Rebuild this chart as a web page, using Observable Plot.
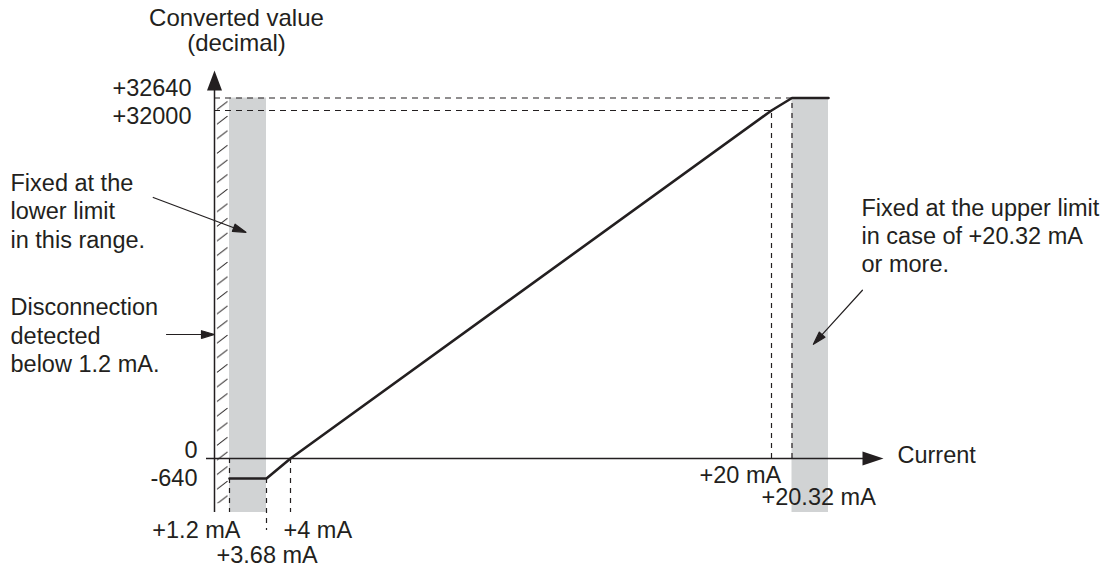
<!DOCTYPE html>
<html>
<head>
<meta charset="utf-8">
<script src="https://cdn.jsdelivr.net/npm/d3@7"></script>
<script src="https://cdn.jsdelivr.net/npm/@observablehq/plot@0.6"></script>
<style>
  html, body { margin: 0; padding: 0; background: #fff; overflow: hidden; }
  #chart { width: 1117px; height: 574px; }
</style>
</head>
<body>
<div id="chart"></div>
<script>
// ---- Data ----
const curveCurrent = [1.2, 3.68, 4, 20, 20.32, 21.6];          // mA
const curveValue   = [-640, -640, 0, 32000, 32640, 32640];      // converted value

const xTickValues = [1.2, 3.68, 4, 20, 20.32];
const xTickLabels = ["+1.2 mA", "+3.68 mA", "+4 mA", "+20 mA", "+20.32 mA"];

const yTickValues = [32640, 32000, 0, -640];
const yTickLabels = ["+32640", "+32000", "0", "-640"];

const disconnectRange = [0, 1.2];      // mA, hatched
const lowerFixedRange = [1.2, 3.68];   // mA, grey band
const upperFixedRange = [20.32, 21.6]; // mA, grey band (open ended)

const bandBottom = -2200;   // extent of the bands below the axis
const hatchBottom = -1800;
const guideBottom = -3000;  // lowest dashed guide (3.68 mA)
const axisTipX = 23.4;
const axisTipY = 35000;

const titleLines = ["Converted value", "(decimal)"];
const xAxisTitle = "Current";
const lowerNote = ["Fixed at the", "lower limit", "in this range."];
const disconnectNote = ["Disconnection", "detected", "below 1.2 mA."];
const upperNote = ["Fixed at the upper limit", "in case of +20.32 mA", "or more."];

// ---- Build ----
const ink = "#231f20";
const grey = "#d1d3d4";
const font = '"Liberation Sans", Arial, Helvetica, sans-serif';
const fs = 23.5;

const curve = curveCurrent.map((c, i) => ({c, v: curveValue[i]}));
const bands = [lowerFixedRange, upperFixedRange].map(([a, b]) => ({x1: a, x2: b, y1: bandBottom, y2: curveValue[curveValue.length - 1]}));

const headShape = (w) => ({
  draw(ctx, l) { ctx.moveTo(-w, 0); ctx.lineTo(0, -l); ctx.lineTo(w, 0); ctx.closePath(); }
});
const arrowShape = {
  draw(ctx, l) {
    const h = 13, w = 3.8;
    ctx.moveTo(0, 0); ctx.lineTo(0, -l + h);
    ctx.moveTo(-w, -l + h); ctx.lineTo(0, -l); ctx.lineTo(w, -l + h); ctx.closePath();
  }
};

const tick = (i, anchor, dx, dy) => Plot.text([xTickLabels[i]], {
  x: xTickValues[i], y: 0, text: d => d, textAnchor: anchor, lineAnchor: "middle",
  dx, dy, fontSize: fs, fill: ink
});
const ytick = (i, dx, dy) => Plot.text([yTickLabels[i]], {
  x: 0, y: yTickValues[i], text: d => d, textAnchor: "end", lineAnchor: "middle",
  dx, dy, fontSize: fs, fill: ink
});
const note = (lines, dx, dy, lh) => Plot.text([lines.join("\n")], {
  frameAnchor: "top-left", text: d => d, textAnchor: "start", lineAnchor: "top",
  dx, dy, lineHeight: lh, fontSize: fs, fill: ink
});
const dashed = {stroke: ink, strokeWidth: 1.2, strokeDasharray: "6,5"};

const plot = Plot.plot({
  width: 1117, height: 574, margin: 0,
  style: {fontFamily: font, background: "#fff", color: ink},
  x: {type: "linear", domain: [-0.6, 0, 1.2, 3.68, 4, 20, 20.32, 21.6, 23.4],
      range: [206, 214, 229, 266, 290, 771, 791.5, 828, 883], axis: null},
  y: {type: "linear", domain: [-3000, -2200, -640, 0, 32000, 32640, 35000],
      range: [530, 512, 478, 458, 110, 97.5, 70], axis: null},
  marks: [
    Plot.rect(bands, {x1: "x1", x2: "x2", y1: "y1", y2: "y2", fill: grey}),
    Plot.rect([{}], {x1: disconnectRange[0], x2: disconnectRange[1], y1: hatchBottom, y2: yTickValues[0], fill: "url(#hatch)"}),
    // dashed guides
    Plot.ruleY([yTickValues[0]], {x1: 0, x2: xTickValues[4], ...dashed}),
    Plot.ruleY([yTickValues[1]], {x1: 0, x2: xTickValues[3], ...dashed}),
    Plot.ruleX([xTickValues[3]], {y1: 0, y2: yTickValues[1], ...dashed, strokeDasharray: "5,5"}),
    Plot.ruleX([xTickValues[4]], {y1: 0, y2: yTickValues[0], ...dashed, strokeDasharray: "5,5"}),
    Plot.ruleX([xTickValues[0], xTickValues[2]], {y1: 0, y2: bandBottom, ...dashed, strokeDasharray: "5,5"}),
    Plot.ruleX([xTickValues[1]], {y1: yTickValues[3], y2: guideBottom, ...dashed, strokeDasharray: "5,5"}),
    // axes
    Plot.ruleY([0], {x1: -0.6, x2: 23, stroke: ink, strokeWidth: 1.5}),
    Plot.ruleX([0], {y1: bandBottom, y2: 34000, stroke: ink, strokeWidth: 1.5}),
    Plot.vector([{}], {x: 0, y: axisTipY, length: 20, rotate: 0, anchor: "end", shape: headShape(7.5), fill: ink, stroke: "none"}),
    Plot.vector([{}], {x: axisTipX, y: 0, length: 21, rotate: 90, anchor: "end", shape: headShape(7), fill: ink, stroke: "none"}),
    // conversion curve
    Plot.line(curve, {x: "c", y: "v", stroke: ink, strokeWidth: 2.6, strokeLinejoin: "miter"}),
    // tick labels
    ytick(0, -23, -10), ytick(1, -23, 5.5), ytick(2, -17, -8.5), ytick(3, -17, -0.5),
    tick(0, "end", 11, 71.5), tick(1, "start", -50, 96.5), tick(2, "start", -7, 71.5),
    tick(3, "start", -72, 16.5), tick(4, "start", -30.5, 38.5),
    Plot.text([xAxisTitle], {x: axisTipX, y: 0, text: d => d, textAnchor: "start", lineAnchor: "middle", dx: 14, dy: -3.5, fontSize: fs, fill: ink}),
    Plot.text([titleLines.join("\n")], {x: 0, frameAnchor: "top", text: d => d, textAnchor: "middle", lineAnchor: "top", lineHeight: 1.08, dx: 22, dy: 6.6, fontSize: 24, fill: ink}),
    // annotations
    note(lowerNote, 10, 170.6, 1.204),
    note(disconnectNote, 10, 294.9, 1.204),
    note(upperNote, 861, 195, 1.2),
    Plot.vector([{}], {x: 2.3, y: 20800, length: 99, rotate: 110.6, anchor: "end", shape: arrowShape, stroke: ink, fill: ink, strokeWidth: 1.2}),
    Plot.vector([{}], {x: 0, y: 11400, length: 48, rotate: 90, anchor: "end", shape: arrowShape, stroke: ink, fill: ink, strokeWidth: 1.2}),
    Plot.vector([{}], {x: 21.07, y: 10500, length: 73, rotate: 222.2, anchor: "end", shape: arrowShape, stroke: ink, fill: ink, strokeWidth: 1.2})
  ]
});

// hatch pattern for the disconnection range, aligned to the scales
const sx = plot.scale("x"), sy = plot.scale("y");
const defs = d3.select(plot).insert("defs", ":first-child");
defs.append("pattern")
  .attr("id", "hatch").attr("patternUnits", "userSpaceOnUse")
  .attr("x", sx.apply(disconnectRange[0])).attr("y", sy.apply(yTickValues[0]))
  .attr("width", 15).attr("height", 14.6)
  .append("path").attr("d", "M3,12 L13.5,4").attr("stroke", ink).attr("stroke-width", 1).attr("fill", "none");

document.getElementById("chart").appendChild(plot);
</script>
</body>
</html>
